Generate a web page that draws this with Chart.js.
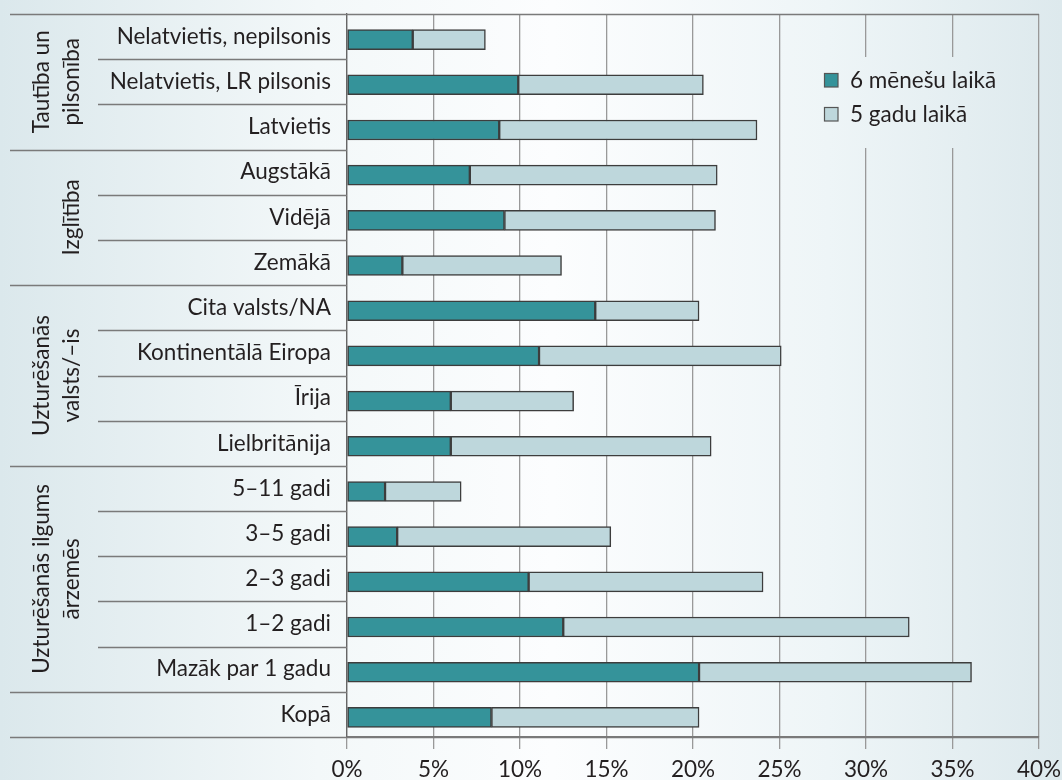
<!DOCTYPE html>
<html>
<head>
<meta charset="utf-8">
<script src="https://cdn.jsdelivr.net/npm/chart.js@4/dist/chart.umd.min.js"></script>
<style>
  html, body { margin: 0; padding: 0; }
  body {
    width: 1062px; height: 780px; overflow: hidden;
    background: linear-gradient(to right, #dbe8ec 0%, #f3f8f9 30%, #fcfdfe 52%, #eef5f7 78%, #dde9ed 100%);
  }
  canvas { display: block; }
</style>
</head>
<body>
<canvas id="c" width="1062" height="780"></canvas>
<script>
var categories = ['Nelatvietis, nepilsonis', 'Nelatvietis, LR pilsonis', 'Latvietis',
  'Augstākā', 'Vidējā', 'Zemākā',
  'Cita valsts/NA', 'Kontinentālā Eiropa', 'Īrija', 'Lielbritānija',
  '5–11 gadi', '3–5 gadi', '2–3 gadi', '1–2 gadi', 'Mazāk par 1 gadu',
  'Kopā'];
// share within 6 months (dark part)
var sixMonths = [3.8, 9.9, 8.8, 7.1, 9.1, 3.2, 14.35, 11.1, 6.0, 6.0, 2.2, 2.9, 10.5, 12.5, 20.35, 8.35];
// share within 5 years (full bar length)
var fiveYears = [8.0, 20.6, 23.7, 21.4, 21.3, 12.4, 20.35, 25.1, 13.1, 21.05, 6.6, 15.25, 24.05, 32.5, 36.1, 20.35];
var seriesNames = ['6 mēnešu laikā', '5 gadu laikā'];
var xTicks = [0, 5, 10, 15, 20, 25, 30, 35, 40];

var groups = [
  { lines: ['Tautība un', 'pilsonība'], from: 0, to: 2 },
  { lines: ['Izglītība'], from: 3, to: 5 },
  { lines: ['Uzturēšanās', 'valsts/–is'], from: 6, to: 9 },
  { lines: ['Uzturēšanās ilgums', 'ārzemēs'], from: 10, to: 14 }
];

var FONT = 'Lato, "Noto Sans", sans-serif';
var FSIZE = 22.5;
var TXT = '#231f20';
var LINE = '#7a7a7a';
var darkColor = '#35939a';
var lightColor = '#bed7dc';

// stacked part on top of the 6 month value
var rest = fiveYears.map(function(v, i) { return +(v - sixMonths[i]).toFixed(2); });

function bgGradient(ctx) {
  var g = ctx.createLinearGradient(0, 0, 1062, 0);
  g.addColorStop(0, '#dbe8ec');
  g.addColorStop(0.30, '#f3f8f9');
  g.addColorStop(0.52, '#fcfdfe');
  g.addColorStop(0.78, '#eef5f7');
  g.addColorStop(1, '#dde9ed');
  return g;
}

function noPad(scale) {
  scale.paddingTop = 0;
  scale.paddingBottom = 0;
  scale.paddingLeft = 0;
  scale.paddingRight = 0;
}

var framePlugin = {
  id: 'frame',
  // bars sit a little below the row middle in the original
  beforeDatasetsDraw: function(chart) {
    chart.ctx.save();
    chart.ctx.translate(0, 3);
  },
  afterDatasetsDraw: function(chart) {
    chart.ctx.restore();
  },
  afterDraw: function(chart) {
    var ctx = chart.ctx;
    var area = chart.chartArea;
    var step = (area.bottom - area.top) / categories.length;
    var groupEdges = {};
    groups.forEach(function(g) { groupEdges[g.from] = true; groupEdges[g.to + 1] = true; });

    ctx.save();
    ctx.strokeStyle = LINE;
    ctx.lineWidth = 1.3;
    // row separators in label area
    for (var k = 0; k <= categories.length; k++) {
      var yy = Math.round(area.top + k * step) + 0.5;
      var x0 = (groupEdges[k] || k === 0 || k === categories.length) ? 10 : 98;
      var x1 = (k === 0 || k === categories.length) ? area.right : area.left;
      ctx.beginPath();
      ctx.moveTo(x0, yy);
      ctx.lineTo(x1, yy);
      ctx.stroke();
    }

    // group labels, rotated
    ctx.fillStyle = TXT;
    ctx.font = FSIZE + 'px ' + FONT;
    ctx.textAlign = 'center';
    ctx.textBaseline = 'middle';
    groups.forEach(function(g) {
      var yc = (area.top + g.from * step + area.top + (g.to + 1) * step) / 2;
      var n = g.lines.length;
      g.lines.forEach(function(line, i) {
        var x = 72 - (n - 1 - i) * 30;
        ctx.save();
        ctx.translate(x, yc);
        ctx.rotate(-Math.PI / 2);
        ctx.fillText(line, 0, 0);
        ctx.restore();
      });
    });

    // legend box over gridlines
    ctx.fillStyle = bgGradient(ctx);
    ctx.fillRect(812, 57, 210, 91);
    var ds = chart.data.datasets;
    var ly = [80, 114];
    ds.forEach(function(d, i) {
      ctx.fillStyle = d.backgroundColor;
      ctx.fillRect(824, ly[i] - 7, 14, 14);
      ctx.strokeStyle = '#555';
      ctx.lineWidth = 1.2;
      ctx.strokeRect(824.5, ly[i] - 6.5, 13.5, 13.5);
      ctx.fillStyle = TXT;
      ctx.textAlign = 'left';
      ctx.fillText(d.label, 850, ly[i] + 1);
    });
    ctx.restore();
  }
};

var chart = new Chart(document.getElementById('c'), {
  type: 'bar',
  data: {
    labels: categories,
    datasets: [
      { label: seriesNames[0], data: sixMonths, backgroundColor: darkColor },
      { label: seriesNames[1], data: rest, backgroundColor: lightColor }
    ]
  },
  options: {
    indexAxis: 'y',
    responsive: false,
    animation: false,
    layout: { padding: { top: 14, right: 23, left: 0, bottom: 0 } },
    datasets: {
      bar: { borderColor: '#3d3d3d', borderWidth: 1.5, borderSkipped: false, barThickness: 20 }
    },
    plugins: { legend: { display: false }, tooltip: { enabled: false } },
    scales: {
      x: {
        stacked: true,
        min: 0, max: 40,
        afterBuildTicks: function(scale) { scale.ticks = xTicks.map(function(v) { return { value: v }; }); },
        afterFit: function(scale) { scale.height = 43; noPad(scale); },
        ticks: {
          color: TXT, padding: 7, maxRotation: 0,
          font: { family: FONT, size: FSIZE },
          callback: function(v) { return v + '%'; }
        },
        grid: { color: '#999', lineWidth: 1.3, tickLength: 12 },
        border: { color: LINE, width: 1.3 }
      },
      y: {
        stacked: true,
        afterFit: function(scale) { scale.width = 347; noPad(scale); },
        ticks: { color: TXT, padding: 16, font: { family: FONT, size: FSIZE } },
        grid: { display: false, drawTicks: false },
        border: { display: true, color: '#666', width: 1.3 }
      }
    }
  },
  plugins: [framePlugin]
});
</script>
</body>
</html>
